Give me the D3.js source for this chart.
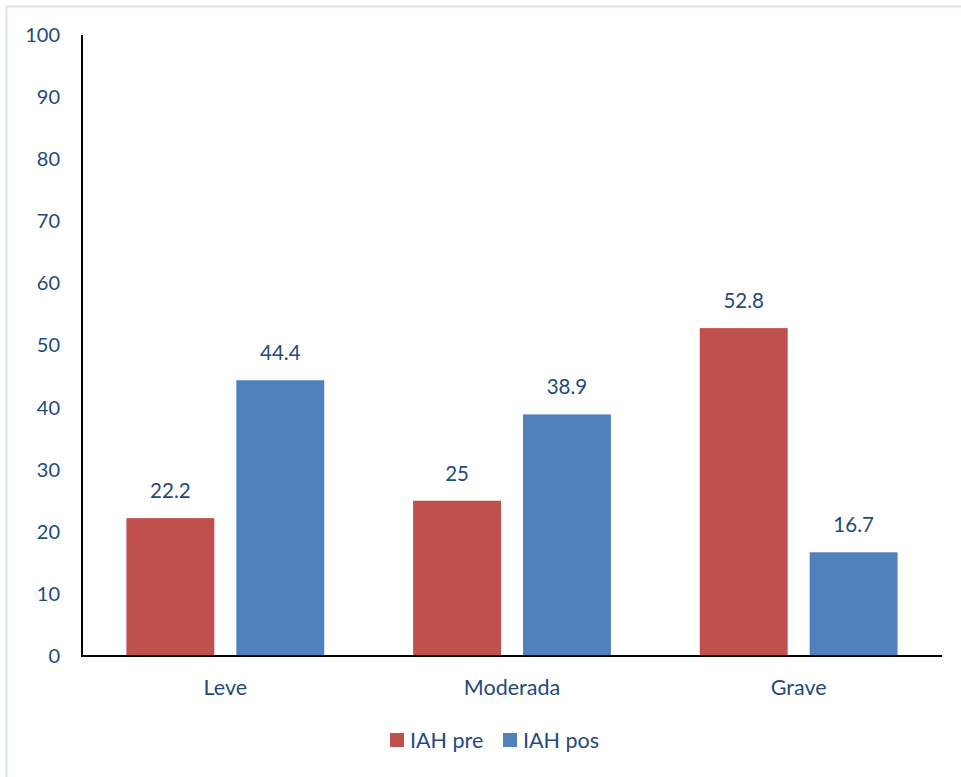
<!DOCTYPE html>
<html>
<head>
<meta charset="utf-8">
<script src="https://cdn.jsdelivr.net/npm/d3@7"></script>
<style>
  html, body { margin: 0; padding: 0; background: #fff; }
  svg { display: block; }
  text { font-family: Lato, "Open Sans", sans-serif; fill: #1F4A7C; }
</style>
</head>
<body>
<svg id="chart" width="961" height="777"></svg>
<script>
// Categories of severity and the two series (percent)
const categories = ["Leve", "Moderada", "Grave"];
const seriesNames = ["IAH pre", "IAH pos"];
const iahPre = [22.2, 25, 52.8];
const iahPos = [44.4, 38.9, 16.7];
const yTicks = [0, 10, 20, 30, 40, 50, 60, 70, 80, 90, 100];

const colors = ["#C0504D", "#4F81BD"];
const seriesValues = [iahPre, iahPos];

const svg = d3.select("#chart");
const W = 961, H = 777;

// Outer frame of the chart area
svg.append("rect")
  .attr("x", 6.5).attr("y", 6.5)
  .attr("width", W + 10).attr("height", H + 10)
  .attr("fill", "none")
  .attr("stroke", "#D6E3F2")
  .attr("stroke-width", 2);

const plot = { left: 82, right: 942, top: 35, bottom: 656 };

const y = d3.scaleLinear().domain([0, 100]).range([plot.bottom, plot.top]);

const x0 = d3.scaleBand().domain(categories).range([plot.left, plot.right]).padding(0);
const groupWidth = x0.bandwidth() * 0.69;
const x1 = d3.scaleBand().domain(seriesNames)
  .range([0, groupWidth]).paddingInner(0.2).paddingOuter(0);

// Y axis labels (no tick marks)
const yAxis = d3.axisLeft(y).tickValues(yTicks).tickSize(0).tickPadding(22);
const gy = svg.append("g").attr("transform", `translate(${plot.left},0)`).call(yAxis);
gy.select(".domain").remove();
gy.selectAll("text").style("font-size", "20px").attr("fill", "#1F4A7C")
  .style("font-family", "Lato, 'Open Sans', sans-serif");

// Bars
const groups = svg.append("g").selectAll("g")
  .data(categories)
  .join("g")
  .attr("transform", d => `translate(${x0(d) + (x0.bandwidth() - groupWidth) / 2},0)`);

groups.selectAll("rect")
  .data((d, i) => seriesNames.map((s, k) => ({ s, k, v: seriesValues[k][i] })))
  .join("rect")
  .attr("x", d => x1(d.s))
  .attr("width", x1.bandwidth())
  .attr("y", d => y(d.v))
  .attr("height", d => y(0) - y(d.v))
  .attr("fill", d => colors[d.k]);

// Value labels above each bar
groups.selectAll("text.val")
  .data((d, i) => seriesNames.map((s, k) => ({ s, k, v: seriesValues[k][i] })))
  .join("text")
  .attr("class", "val")
  .attr("x", d => x1(d.s) + x1.bandwidth() / 2)
  .attr("y", d => y(d.v) - 20)
  .attr("text-anchor", "middle")
  .style("font-size", "20.5px")
  .text(d => d.v);

// Axis lines
svg.append("line")
  .attr("x1", plot.left).attr("x2", plot.left)
  .attr("y1", plot.top).attr("y2", plot.bottom)
  .attr("stroke", "#000").attr("stroke-width", 2);
svg.append("line")
  .attr("x1", plot.left - 1).attr("x2", plot.right)
  .attr("y1", plot.bottom).attr("y2", plot.bottom)
  .attr("stroke", "#000").attr("stroke-width", 2);

// Category labels
svg.append("g").selectAll("text")
  .data(categories)
  .join("text")
  .attr("x", d => x0(d) + x0.bandwidth() / 2)
  .attr("y", 695)
  .attr("text-anchor", "middle")
  .style("font-size", "21.5px")
  .text(d => d);

// Legend
const legend = svg.append("g").attr("transform", "translate(390,733)");
const legendX = [0, 113];
const li = legend.selectAll("g").data(seriesNames).join("g")
  .attr("transform", (d, i) => `translate(${legendX[i]},0)`);
li.append("rect").attr("width", 14).attr("height", 14).attr("fill", (d, i) => colors[i]);
li.append("text").attr("x", 20).attr("y", 14.5).style("font-size", "21.5px").text(d => d);
</script>
</body>
</html>
